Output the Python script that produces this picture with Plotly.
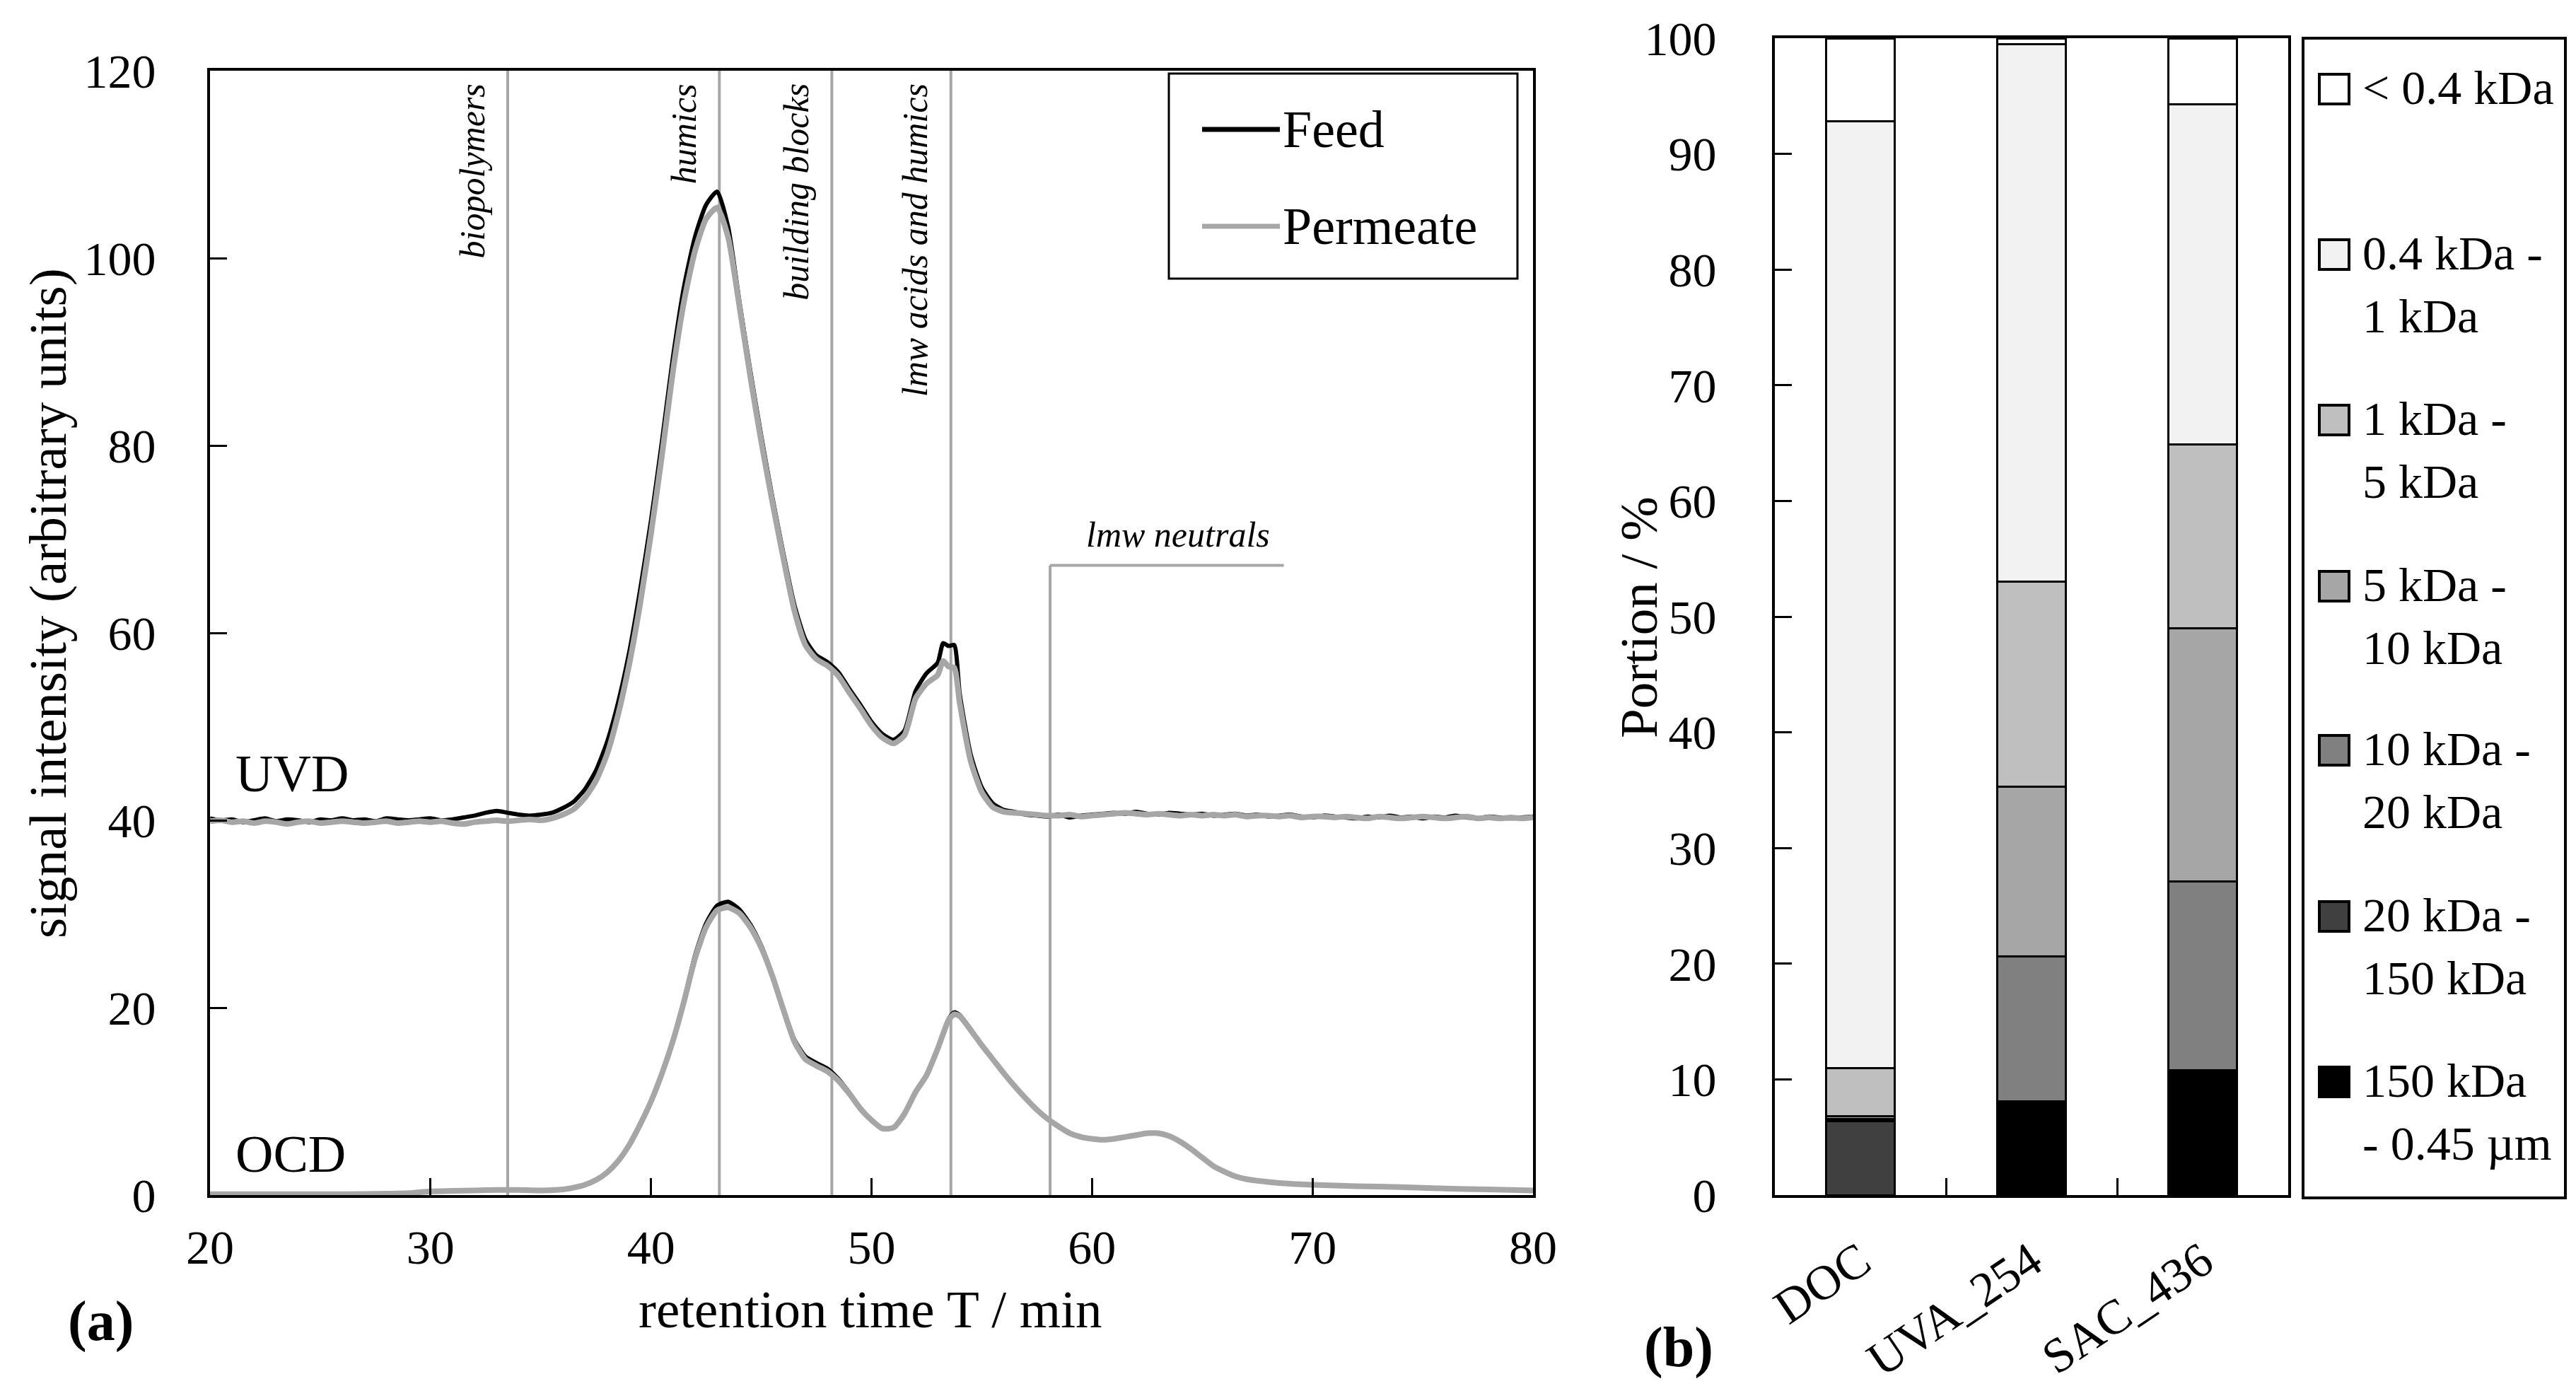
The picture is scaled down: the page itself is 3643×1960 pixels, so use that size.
import plotly.graph_objects as go

W, H = 3643, 1960
FONT = "Liberation Serif"

# (a) LC-OCD chromatograms, UVD signal shifted by +40
uvd_time = [20.0, 20.5, 21.0, 21.5, 22.0, 22.5, 23.0, 23.5, 24.0, 24.5, 25.0, 25.5,
            26.0, 26.5, 27.0, 27.5, 28.0, 28.5, 29.0, 29.5, 30.0, 30.5, 31.0, 31.5,
            32.0, 32.5, 33.0, 33.5, 34.0, 34.5, 35.0, 35.5, 36.0, 36.5, 37.0, 37.5,
            38.0, 38.5, 39.0, 39.5, 40.0, 40.5, 41.0, 41.5, 42.0, 42.5, 43.0, 43.5,
            44.0, 44.5, 45.0, 45.5, 46.0, 46.5, 47.0, 47.5, 48.0, 48.5, 49.0, 49.5,
            50.0, 50.5, 51.0, 51.5, 52.0, 52.5, 53.0, 53.25, 53.5, 53.75, 54.0, 54.5,
            55.0, 55.5, 56.0, 56.5, 57.0, 57.5, 58.0, 58.5, 59.0, 59.5, 60.0, 60.5,
            61.0, 61.5, 62.0, 62.5, 63.0, 63.5, 64.0, 64.5, 65.0, 65.5, 66.0, 66.5,
            67.0, 67.5, 68.0, 68.5, 69.0, 69.5, 70.0, 70.5, 71.0, 71.5, 72.0, 72.5,
            73.0, 73.5, 74.0, 74.5, 75.0, 75.5, 76.0, 76.5, 77.0, 77.5, 78.0, 78.5,
            79.0, 79.5, 80.0]
uvd_feed = [40.2, 40.0, 40.1, 39.8, 40.0, 40.2, 39.9, 40.1, 40.0, 39.8, 40.1, 40.0,
            40.2, 40.0, 40.1, 39.9, 40.2, 40.1, 40.0, 40.1, 40.2, 40.0, 40.1, 40.3,
            40.5, 40.8, 41.0, 40.8, 40.6, 40.5, 40.6, 40.8, 41.3, 42.0, 43.3, 45.3,
            48.3, 52.5, 57.8, 64.5, 72.0, 80.5, 89.5, 97.0, 102.3, 105.7, 107.1, 103.3,
            95.5, 88.0, 81.0, 74.5, 68.5, 63.0, 59.3, 57.6, 56.9, 55.8, 54.0, 52.3,
            50.5, 49.2, 48.6, 49.6, 53.8, 55.7, 56.8, 58.9, 58.6, 58.7, 53.5, 47.0,
            43.5, 41.8, 41.1, 40.9, 40.6, 40.5, 40.4, 40.6, 40.3, 40.5, 40.6, 40.7,
            40.8, 40.7, 40.9, 40.7, 40.6, 40.8, 40.7, 40.6, 40.7, 40.5, 40.6, 40.7,
            40.5, 40.6, 40.4, 40.5, 40.6, 40.4, 40.3, 40.5, 40.4, 40.3, 40.2, 40.4,
            40.3, 40.5, 40.3, 40.4, 40.2, 40.4, 40.3, 40.5, 40.3, 40.2, 40.4, 40.3,
            40.2, 40.3, 40.4]
uvd_perm = [39.9, 40.0, 39.8, 39.9, 39.7, 39.9, 39.8, 39.6, 39.8, 39.9, 39.7, 39.8,
            39.9, 39.8, 39.7, 39.8, 39.9, 39.7, 39.8, 39.9, 39.8, 39.9, 39.7, 39.6,
            39.8, 39.9, 40.0, 39.9, 40.0, 40.1, 40.0, 40.2, 40.6, 41.2, 42.4, 44.2,
            47.0, 51.2, 56.5, 63.0, 70.6, 79.0, 88.0, 95.4, 100.8, 104.2, 105.4, 102.2,
            95.0, 87.4, 80.4, 74.0, 68.0, 62.4, 58.7, 57.2, 56.5, 55.4, 53.6, 51.9,
            50.1, 48.8, 48.2, 49.1, 53.0, 54.6, 55.5, 57.0, 56.4, 56.3, 52.5, 46.3,
            43.0, 41.4, 40.9, 40.8, 40.7, 40.6, 40.5, 40.5, 40.6, 40.4, 40.5, 40.6,
            40.7, 40.8, 40.7, 40.6, 40.7, 40.6, 40.5, 40.6, 40.5, 40.6, 40.5, 40.6,
            40.4, 40.5, 40.5, 40.4, 40.5, 40.3, 40.4, 40.4, 40.3, 40.4, 40.3, 40.2,
            40.4, 40.3, 40.2, 40.3, 40.4, 40.3, 40.2, 40.3, 40.4, 40.2, 40.3, 40.2,
            40.3, 40.2, 40.3]

ocd_time = [20, 22, 24, 26, 28, 29, 30, 31, 32, 33, 34, 35, 36, 36.5, 37, 37.5,
            38, 38.5, 39, 39.5, 40, 40.5, 41, 41.5, 42, 42.5, 43, 43.5, 44, 44.5,
            45, 45.5, 46, 46.5, 47, 47.5, 48, 48.5, 49, 49.5, 50, 50.5, 51, 51.5,
            52, 52.5, 53, 53.5, 53.75, 54, 54.5, 55, 55.5, 56, 56.5, 57, 57.5, 58,
            58.5, 59, 59.5, 60, 60.5, 61, 61.5, 62, 62.5, 63, 63.5, 64, 64.5, 65,
            65.5, 66, 66.5, 67, 68, 69, 70, 72, 74, 76, 78, 80]
ocd_feed = [0.1, 0.1, 0.1, 0.1, 0.15, 0.2, 0.4, 0.45, 0.5, 0.55, 0.55, 0.5, 0.6, 0.8,
            1.1, 1.6, 2.4, 3.6, 5.3, 7.5, 10.0, 13.0, 16.5, 20.8, 25.6, 29.0, 30.9,
            31.3, 30.5, 28.9, 26.6, 23.5, 19.9, 16.6, 14.8, 14.1, 13.5, 12.4, 10.9,
            9.3, 8.0, 7.1, 7.2, 8.7, 11.0, 12.8, 15.6, 18.8, 19.5, 19.2, 17.7, 16.0,
            14.5, 13.0, 11.6, 10.3, 9.1, 8.1, 7.3, 6.6, 6.2, 6.0, 5.9, 6.0, 6.2, 6.4,
            6.6, 6.6, 6.3, 5.7, 4.9, 4.0, 3.1, 2.5, 2.0, 1.7, 1.4, 1.2, 1.1, 0.95,
            0.85, 0.7, 0.6, 0.5]
ocd_perm = [0.1, 0.1, 0.1, 0.1, 0.15, 0.2, 0.4, 0.45, 0.5, 0.55, 0.55, 0.5, 0.6, 0.8,
            1.1, 1.6, 2.4, 3.6, 5.3, 7.5, 10.0, 13.0, 16.5, 20.7, 25.3, 28.6, 30.4,
            30.7, 30.1, 28.6, 26.4, 23.4, 19.8, 16.4, 14.5, 13.8, 13.2, 12.2, 10.8,
            9.2, 8.0, 7.1, 7.2, 8.7, 11.0, 12.8, 15.6, 18.7, 19.3, 19.1, 17.6, 16.0,
            14.5, 13.0, 11.6, 10.3, 9.1, 8.1, 7.3, 6.6, 6.2, 6.0, 5.9, 6.0, 6.2, 6.4,
            6.6, 6.6, 6.3, 5.7, 4.9, 4.0, 3.1, 2.5, 2.0, 1.7, 1.4, 1.2, 1.1, 0.95,
            0.85, 0.7, 0.6, 0.5]

fraction_names = ["biopolymers", "humics", "building blocks", "lmw acids and humics"]
fraction_bounds = [33.5, 43.1, 48.2, 53.6]
neutrals_start = 58.1
neutrals_end = 68.7
neutrals_level = 67.2

# (b) size fractions in %
params = ["DOC", "UVA_254", "SAC_436"]
p_150k_045um = [0.0, 8.1, 10.8]
p_20k_150k = [6.4, 0.0, 0.0]
p_10k_20k = [0.2, 12.5, 16.3]
p_5k_10k = [0.2, 14.7, 21.9]
p_1k_5k = [4.2, 17.7, 15.9]
p_04k_1k = [81.8, 46.5, 29.4]
p_lt_04k = [7.2, 0.5, 5.7]

classes = [
    ("150 kDa - 0.45 µm", p_150k_045um, "#000000", ["150 kDa", "- 0.45 µm"]),
    ("20 kDa - 150 kDa", p_20k_150k, "#404040", ["20 kDa -", "150 kDa"]),
    ("10 kDa - 20 kDa", p_10k_20k, "#808080", ["10 kDa -", "20 kDa"]),
    ("5 kDa - 10 kDa", p_5k_10k, "#a6a6a6", ["5 kDa -", "10 kDa"]),
    ("1 kDa - 5 kDa", p_1k_5k, "#bfbfbf", ["1 kDa -", "5 kDa"]),
    ("0.4 kDa - 1 kDa", p_04k_1k, "#f2f2f2", ["0.4 kDa -", "1 kDa"]),
    ("< 0.4 kDa", p_lt_04k, "#ffffff", ["< 0.4 kDa"]),
]


def px(x):
    return x / W


def py(y):
    return 1 - y / H


def txt(x, y, text, size, angle=0, xa="center", ya="middle"):
    return dict(xref="paper", yref="paper", x=px(x), y=py(y), text=text, textangle=angle,
                xanchor=xa, yanchor=ya, showarrow=False,
                font=dict(family=FONT, size=size, color="black"))


fig = go.Figure()

# feed first, permeate on top
for t, v in [(uvd_time, uvd_feed), (ocd_time, ocd_feed)]:
    fig.add_trace(go.Scatter(x=t, y=v, mode="lines", name="Feed", showlegend=False,
                             line=dict(color="black", width=6, shape="spline", smoothing=0.6),
                             xaxis="x", yaxis="y"))
for t, v in [(uvd_time, uvd_perm), (ocd_time, ocd_perm)]:
    fig.add_trace(go.Scatter(x=t, y=v, mode="lines", name="Permeate", showlegend=False,
                             line=dict(color="#a6a6a6", width=8, shape="spline", smoothing=0.6),
                             xaxis="x", yaxis="y"))

for name, vals, col, _ in classes:
    fig.add_trace(go.Bar(x=params, y=vals, name=name, showlegend=False, width=0.4,
                         marker=dict(color=col, line=dict(color="black", width=3)),
                         xaxis="x2", yaxis="y2"))

shapes = []
annotations = []
GRAY = "#a6a6a6"

for b, name in zip(fraction_bounds, fraction_names):
    shapes.append(dict(type="line", xref="x", yref="y", x0=b, x1=b, y0=0, y1=120,
                       line=dict(color=GRAY, width=4), layer="below"))
    annotations.append(dict(xref="x", yref="y", x=b, y=118.8, xshift=-20,
                            xanchor="right", yanchor="top", textangle=-90,
                            text="<i>%s</i>" % name, showarrow=False,
                            font=dict(family=FONT, size=50, color="black")))

shapes.append(dict(type="line", xref="x", yref="y", x0=neutrals_start, x1=neutrals_start,
                   y0=0, y1=neutrals_level, line=dict(color=GRAY, width=4), layer="below"))
shapes.append(dict(type="line", xref="x", yref="y", x0=neutrals_start, x1=neutrals_end,
                   y0=neutrals_level, y1=neutrals_level, line=dict(color=GRAY, width=4),
                   layer="below"))
annotations.append(dict(xref="x", yref="y", x=(neutrals_start + neutrals_end) / 2 + 0.5,
                        y=neutrals_level, yshift=14, xanchor="center", yanchor="bottom",
                        text="<i>lmw neutrals</i>", showarrow=False,
                        font=dict(family=FONT, size=50, color="black")))

annotations.append(dict(xref="x", yref="y", x=21.1, y=45.0, xanchor="left", yanchor="middle",
                        text="UVD", showarrow=False, font=dict(family=FONT, size=74, color="black")))
annotations.append(dict(xref="x", yref="y", x=21.1, y=4.4, xanchor="left", yanchor="middle",
                        text="OCD", showarrow=False, font=dict(family=FONT, size=74, color="black")))

# legend (a)
shapes.append(dict(type="rect", xref="paper", yref="paper", x0=px(1645), x1=px(2138),
                   y0=py(386), y1=py(96), line=dict(color="black", width=3), fillcolor="white"))
for yy, col, lab in [(175, "black", "Feed"), (312, GRAY, "Permeate")]:
    shapes.append(dict(type="line", xref="paper", yref="paper", x0=px(1692), x1=px(1802),
                       y0=py(yy), y1=py(yy), line=dict(color=col, width=7)))
    annotations.append(txt(1804, yy, lab, 74, xa="left"))

# legend (b)
shapes.append(dict(type="rect", xref="paper", yref="paper", x0=px(3249), x1=px(3620),
                   y0=py(1686), y1=py(46), line=dict(color="black", width=4), fillcolor="white"))
item_y = [1522, 1288, 1053, 821, 586, 352, 118]
for (name, vals, col, lines), cy in zip(classes, item_y):
    shapes.append(dict(type="rect", xref="paper", yref="paper", x0=px(3272), x1=px(3314),
                       y0=py(cy + 21), y1=py(cy - 21), fillcolor=col,
                       line=dict(color="black", width=4)))
    for k, ln in enumerate(lines):
        annotations.append(txt(3331, cy - 2 + 89 * k, ln, 68, xa="left"))

# axis titles and panel letters
annotations.append(txt(1222, 1843, "retention time T / min", 75))
annotations.append(txt(59, 845, "signal intensity (arbitrary units)", 75, angle=-90))
annotations.append(txt(2309, 865, "Portion / %", 75, angle=-90))
annotations.append(txt(134, 1860, "<b>(a)</b>", 80))
annotations.append(txt(2366, 1897, "<b>(b)</b>", 80))

axis_common = dict(showline=True, linecolor="black", linewidth=4, mirror=True,
                   showgrid=False, zeroline=False, ticks="inside", ticklen=24,
                   tickwidth=3, tickcolor="black", automargin=False)
tick_font = dict(family=FONT, size=68, color="black")

fig.update_layout(
    width=W, height=H,
    margin=dict(l=0, r=0, t=0, b=0, autoexpand=False),
    paper_bgcolor="white", plot_bgcolor="white",
    barmode="stack",
    showlegend=False,
    xaxis=dict(domain=[px(289), px(2160)], range=[20, 80], dtick=10, tickfont=tick_font,
               ticklabelstandoff=11, anchor="y", **axis_common),
    yaxis=dict(domain=[py(1682), py(92)], range=[0, 120], dtick=20, tickfont=tick_font,
               ticklabelstandoff=59, anchor="x", **axis_common),
    xaxis2=dict(domain=[px(2502), px(3228)], type="category", range=[-0.5, 2.5],
                tickson="boundaries", tickangle=-34, ticklabelstandoff=22,
                tickfont=dict(family=FONT, size=69, color="black"),
                anchor="y2", **axis_common),
    yaxis2=dict(domain=[py(1682), py(46)], range=[0, 100], dtick=10, tickfont=tick_font,
                ticklabelstandoff=65, anchor="x2", **axis_common),
    shapes=shapes,
    annotations=annotations,
)

fig.write_html("out.html")
